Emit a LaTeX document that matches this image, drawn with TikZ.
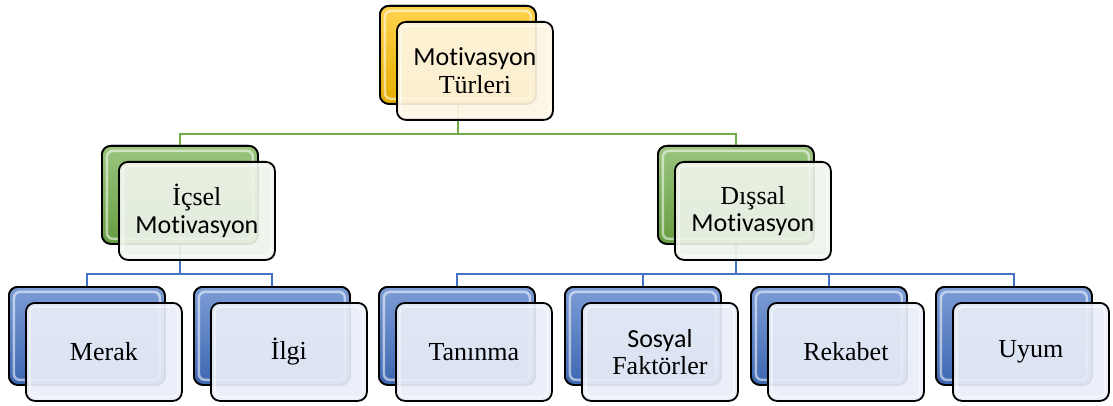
\documentclass[tikz,border=0pt]{standalone}
\usepackage{fontspec}
\setmainfont{Liberation Serif}
\newfontfamily\sansf{Carlito}
\newcommand\motiv{{\sansf Mot\kern0pt ivasyon}}
\definecolor{gold}{HTML}{FFC000}
\definecolor{leaf}{HTML}{70AD47}
\definecolor{sky}{HTML}{4472C4}
\definecolor{goldtint}{HTML}{FEF5E2}
\definecolor{leaftint}{HTML}{EEF4EA}
\definecolor{skytint}{HTML}{E9EEF8}
\begin{document}
\begin{tikzpicture}[x=1pt,y=-1pt,
  backbox/.style={draw=black, line width=1.8pt, rounded corners=9pt,
    minimum width=156pt, minimum height=98pt, anchor=north west, inner sep=0pt,
    top color=#1!70!white, bottom color=#1!90!black,
    path picture={\draw[white, opacity=.55, line width=2.5pt, rounded corners=6pt]
      ([shift={(5pt,-5pt)}]path picture bounding box.north west) rectangle
      ([shift={(-5pt,5pt)}]path picture bounding box.south east);}},
  frontbox/.style={draw=black, line width=1.8pt, rounded corners=9pt,
    minimum width=156pt, minimum height=98pt, anchor=north west, inner sep=2pt,
    fill=#1, fill opacity=0.92, text opacity=1, align=center, text width=150pt,
    font=\fontsize{26}{27.5}\selectfont,
    path picture={\draw[white, opacity=.6, line width=1.5pt, rounded corners=6pt]
      ([shift={(4pt,-4pt)}]path picture bounding box.north west) rectangle
      ([shift={(-4pt,4pt)}]path picture bounding box.south east);}},
  greenline/.style={draw=leaf, line width=2.4pt},
  blueline/.style={draw=sky, line width=2.4pt}
]
\useasboundingbox (0,0) rectangle (1113,406);

% back boxes (named, used as connector ends)
\node[backbox=gold] (b0) at (379,5) {};
\node[backbox=leaf] (b1) at (101,145) {};
\node[backbox=leaf] (b2) at (657,145) {};
\node[backbox=sky] (c1) at (8,286) {};
\node[backbox=sky] (c2) at (193,286) {};
\node[backbox=sky] (c3) at (378,286) {};
\node[backbox=sky] (c4) at (564,286) {};
\node[backbox=sky] (c5) at (750,286) {};
\node[backbox=sky] (c6) at (935,286) {};

% connectors
\path (b0.south) ++(0,29) coordinate (j0);
\path (b1.south) ++(0,29) coordinate (j1);
\path (b2.south) ++(0,29) coordinate (j2);
\draw[greenline] (b0.south) -- (j0);
\draw[greenline] (j0) -| (b1.north);
\draw[greenline] (j0) -| (b2.north);
\draw[blueline] (b1.south) -- (j1);
\draw[blueline] (j1) -| (c1.north);
\draw[blueline] (j1) -| (c2.north);
\draw[blueline] (b2.south) -- (j2);
\draw[blueline] (j2) -| (c3.north);
\draw[blueline] (j2) -| (c4.north);
\draw[blueline] (j2) -| (c5.north);
\draw[blueline] (j2) -| (c6.north);

% redraw back boxes over connector ends
\node[backbox=gold] at (379,5) {};
\node[backbox=leaf] at (101,145) {};
\node[backbox=leaf] at (657,145) {};
\node[backbox=sky] at (8,286) {};
\node[backbox=sky] at (193,286) {};
\node[backbox=sky] at (378,286) {};
\node[backbox=sky] at (564,286) {};
\node[backbox=sky] at (750,286) {};
\node[backbox=sky] at (935,286) {};

% front boxes
\node[frontbox=goldtint] (f0) at (396,21) {\motiv\\Türleri};
\node[frontbox=leaftint] (f1) at (118,161) {İçsel\\\motiv};
\node[frontbox=leaftint] (f2) at (674,161) {Dışsal\\\motiv};
\node[frontbox=skytint] (g1) at (25,302) {Merak};
\node[frontbox=skytint] (g2) at (210,302) {İlgi};
\node[frontbox=skytint] (g3) at (395,302) {Tanınma};
\node[frontbox=skytint] (g4) at (581,302) {{\sansf Sosyal}\\Faktörler};
\node[frontbox=skytint] (g5) at (767,302) {Rekabet};
\node[frontbox=skytint] (g6) at (952,302) {Uyum};
\end{tikzpicture}
\end{document}
